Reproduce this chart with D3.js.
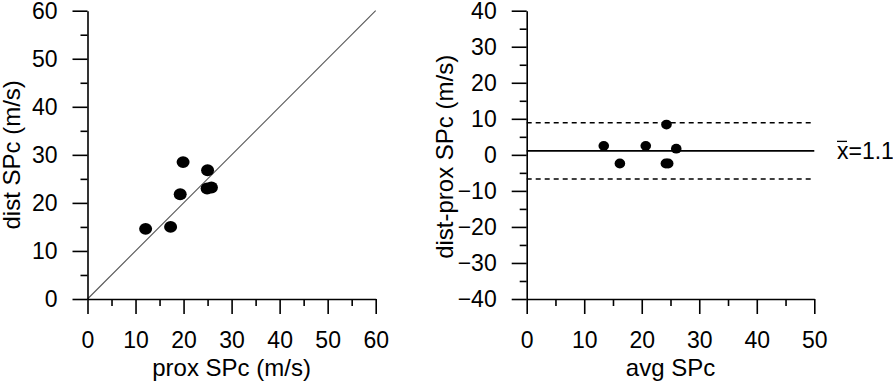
<!DOCTYPE html>
<html>
<head>
<meta charset="utf-8">
<script src="https://cdn.jsdelivr.net/npm/d3@7"></script>
<style>
  body { margin: 0; background: #fff; }
  text { font-family: "Liberation Sans", Arial, sans-serif; }
</style>
</head>
<body>
<div id="chart"></div>
<script>
// left panel: proximal vs distal SPc (m/s)
var proxSPc = [12.1, 17.3, 19.3, 19.9, 25.0, 24.9, 25.8];
var distSPc = [14.6, 15.0, 21.8, 28.5, 26.8, 23.0, 23.2];

// right panel: Bland-Altman style
var avgSPc = [13.4, 16.2, 20.7, 24.3, 26.0, 24.2, 24.6];
var diffSPc = [2.5, -2.4, 2.5, 8.4, 1.7, -2.4, -2.4];
var meanDiff = 1.1;
var limits = [8.9, -6.7];

var leftTicks = [0, 10, 20, 30, 40, 50, 60];
var rightXTicks = [0, 10, 20, 30, 40, 50];
var rightYTicks = [-40, -30, -20, -10, 0, 10, 20, 30, 40];

var W = 893, H = 384;
var tickFont = 23, titleFont = 24;

var svg = d3.select("#chart")
  .append("svg")
  .attr("width", W)
  .attr("height", H);

function minorTicks(lo, hi) {
  var t = [];
  for (var v = lo + 5; v < hi; v += 10) t.push(v);
  return t;
}

function styleAxis(g) {
  g.selectAll("path.domain").attr("stroke", "#000").attr("stroke-width", 1.6);
  g.selectAll(".tick line").attr("stroke", "#000").attr("stroke-width", 1.6);
  g.selectAll("text").attr("font-size", tickFont).attr("fill", "#000")
    .style("font-family", "'Liberation Sans', Arial, sans-serif");
}

function drawAxes(x, y, xTicks, yTicks) {
  var xd = x.domain(), yd = y.domain();

  var gx = svg.append("g")
    .attr("transform", "translate(0," + y(yd[0]) + ")")
    .call(d3.axisBottom(x).tickValues(xTicks).tickSize(15).tickSizeOuter(0).tickPadding(18).tickFormat(d3.format("d")));
  styleAxis(gx);
  var gxm = svg.append("g")
    .attr("transform", "translate(0," + y(yd[0]) + ")")
    .call(d3.axisBottom(x).tickValues(minorTicks(xd[0], xd[1])).tickSize(7).tickFormat(""));
  gxm.select("path.domain").remove();
  styleAxis(gxm);

  var gy = svg.append("g")
    .attr("transform", "translate(" + x(xd[0]) + ",0)")
    .call(d3.axisLeft(y).tickValues(yTicks).tickSize(15).tickSizeOuter(0).tickPadding(15).tickFormat(d3.format("d")));
  styleAxis(gy);
  var gym = svg.append("g")
    .attr("transform", "translate(" + x(xd[0]) + ",0)")
    .call(d3.axisLeft(y).tickValues(minorTicks(yd[0], yd[1])).tickSize(7).tickFormat(""));
  gym.select("path.domain").remove();
  styleAxis(gym);
}

// ---- left panel
var x1 = d3.scaleLinear().domain([0, 60]).range([87.5, 375.7]);
var y1 = d3.scaleLinear().domain([0, 60]).range([299, 10.7]);

svg.append("line")
  .attr("x1", x1(0)).attr("y1", y1(0))
  .attr("x2", x1(60)).attr("y2", y1(60))
  .attr("stroke", "#555")
  .attr("stroke-width", 1.1);

drawAxes(x1, y1, leftTicks, leftTicks);

svg.selectAll(".dotL")
  .data(proxSPc)
  .enter()
  .append("ellipse")
  .attr("cx", function(d) { return x1(d); })
  .attr("cy", function(d, i) { return y1(distSPc[i]); })
  .attr("rx", 6.5)
  .attr("ry", 5.9)
  .attr("fill", "#000");

svg.append("text")
  .attr("x", (x1(0) + x1(60)) / 2)
  .attr("y", 376)
  .attr("text-anchor", "middle")
  .attr("font-size", titleFont)
  .text("prox SPc (m/s)");

svg.append("text")
  .attr("transform", "translate(20," + ((y1(0) + y1(60)) / 2) + ") rotate(-90)")
  .attr("text-anchor", "middle")
  .attr("font-size", titleFont)
  .text("dist SPc (m/s)");

// ---- right panel
var x2 = d3.scaleLinear().domain([0, 50]).range([526.7, 814.3]);
var y2 = d3.scaleLinear().domain([-40, 40]).range([299, 10.7]);

svg.append("line")
  .attr("x1", x2(0)).attr("x2", x2(50))
  .attr("y1", y2(meanDiff)).attr("y2", y2(meanDiff))
  .attr("stroke", "#000")
  .attr("stroke-width", 1.8);

svg.selectAll(".lim")
  .data(limits)
  .enter()
  .append("line")
  .attr("x1", x2(0)).attr("x2", x2(50))
  .attr("y1", function(d) { return y2(d); })
  .attr("y2", function(d) { return y2(d); })
  .attr("stroke", "#000")
  .attr("stroke-width", 1.4)
  .attr("stroke-dasharray", "5,4");

drawAxes(x2, y2, rightXTicks, rightYTicks);

svg.selectAll(".dotR")
  .data(avgSPc)
  .enter()
  .append("ellipse")
  .attr("cx", function(d) { return x2(d); })
  .attr("cy", function(d, i) { return y2(diffSPc[i]); })
  .attr("rx", 5.3)
  .attr("ry", 4.9)
  .attr("fill", "#000");

svg.append("text")
  .attr("x", (x2(0) + x2(50)) / 2)
  .attr("y", 376)
  .attr("text-anchor", "middle")
  .attr("font-size", titleFont)
  .text("avg SPc");

svg.append("text")
  .attr("transform", "translate(453," + ((y2(-40) + y2(40)) / 2 + 2) + ") rotate(-90)")
  .attr("text-anchor", "middle")
  .attr("font-size", titleFont)
  .text("dist-prox SPc (m/s)");

// mean label: x with an overline bar
var lblX = 837, lblY = y2(meanDiff) + 8;
svg.append("text")
  .attr("x", lblX)
  .attr("y", lblY)
  .attr("font-size", tickFont)
  .text("x=" + meanDiff);
svg.append("line")
  .attr("x1", lblX).attr("x2", lblX + 10)
  .attr("y1", lblY - 17.5).attr("y2", lblY - 17.5)
  .attr("stroke", "#000")
  .attr("stroke-width", 1.3);
</script>
</body>
</html>
